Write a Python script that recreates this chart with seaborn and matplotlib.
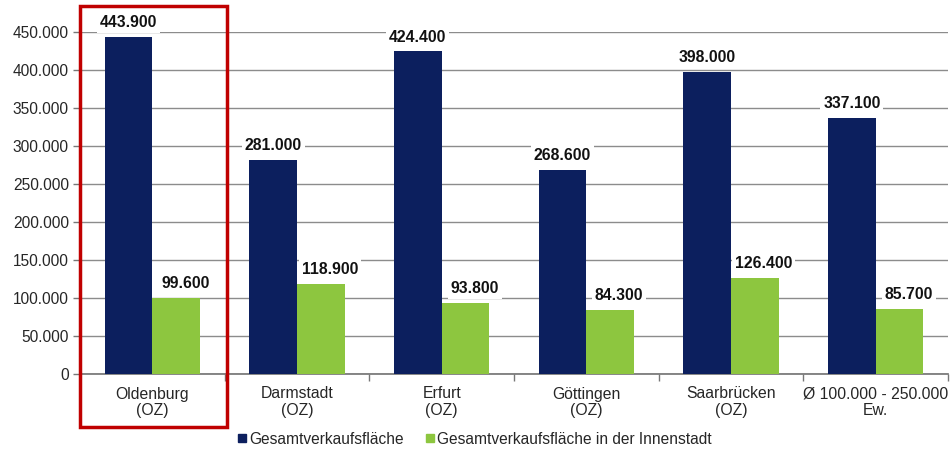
import matplotlib
matplotlib.use("Agg")
import matplotlib.pyplot as plt
import seaborn as sns
import pandas as pd
import numpy as np
from matplotlib.patches import Rectangle
from matplotlib.lines import Line2D

categories = ["Oldenburg\n(OZ)", "Darmstadt\n(OZ)", "Erfurt\n(OZ)", "Göttingen\n(OZ)", "Saarbrücken\n(OZ)", "Ø 100.000 - 250.000\nEw."]
series_names = ["Gesamtverkaufsfläche", "Gesamtverkaufsfläche in der Innenstadt"]
gesamt = [443900, 281000, 424400, 268600, 398000, 337100]
innenstadt = [99600, 118900, 93800, 84300, 126400, 85700]
colors = ["#0C1F5E", "#8DC63F"]

def de_fmt(v):
    return f"{int(round(v)):,}".replace(",", ".")

df = pd.DataFrame({
    "Kategorie": categories * 2,
    "Serie": [series_names[0]] * len(categories) + [series_names[1]] * len(categories),
    "Wert": gesamt + innenstadt,
})

sns.set_theme(style="white")
plt.rcParams["font.family"] = ["Liberation Sans", "DejaVu Sans"]

fig = plt.figure(figsize=(9.52, 4.53), dpi=100)
ax = fig.add_axes([80 / 952, 1 - 374 / 453, 868 / 952, (374 - 32) / 453])

sns.barplot(data=df, x="Kategorie", y="Wert", hue="Serie", hue_order=series_names,
            palette=colors, width=0.66, saturation=1, ax=ax, legend=False,
            edgecolor="none", linewidth=0, zorder=3)

ax.set_ylim(0, 450000)
ax.set_xlim(-0.5, len(categories) - 0.5)
yt = np.arange(0, 450001, 50000)
ax.set_yticks(yt)
ax.set_yticklabels([de_fmt(v) for v in yt], fontsize=11.2, color="#262626")
ax.yaxis.grid(True, color="#8c8c8c", linewidth=1, zorder=0)
ax.set_axisbelow(True)
ax.set_xlabel("")
ax.set_ylabel("")
ax.set_xticks(range(len(categories)))
ax.set_xticklabels(categories, fontsize=11.3, color="#262626", linespacing=1.15)
ax.set_xticks(np.arange(-0.5, len(categories) + 0.5, 1), minor=True)
ax.tick_params(axis="x", which="major", length=0, pad=9)
ax.tick_params(axis="x", which="minor", length=5, width=1, color="#777777", bottom=True)
ax.tick_params(axis="y", length=5, width=1, color="#777777", left=True, pad=3)
for s in ["top", "right"]:
    ax.spines[s].set_visible(False)
ax.spines["left"].set_color("#888888")
ax.spines["bottom"].set_color("#777777")

for i, cont in enumerate(ax.containers):
    anns = ax.bar_label(cont, labels=[de_fmt(v) for v in cont.datavalues], padding=5,
                        fontsize=11.3, fontweight="bold", color="#111111", clip_on=False)
    for a in anns:
        a.set_bbox(dict(facecolor="white", edgecolor="none", pad=2))
        a.set_zorder(5)
        if i == 1:
            a.xyann = (6.5, a.xyann[1])

# red highlight box around first category
rect = Rectangle((80 / 952, 1 - 427 / 453), (227 - 80) / 952, (427 - 6) / 453,
                 transform=fig.transFigure, fill=False, edgecolor="#C00000",
                 linewidth=2.5, zorder=10)
fig.patches.append(rect)

handles = [Line2D([0], [0], marker="s", linestyle="none", markersize=6,
                  markerfacecolor=c, markeredgecolor=c) for c in colors]
fig.legend(handles, series_names, loc="center", bbox_to_anchor=(474 / 952, 1 - 439 / 453),
           ncol=2, frameon=False, fontsize=11.2, handletextpad=0.05, columnspacing=1.3,
           handlelength=0.8)

fig.savefig("out.png", dpi=100)
